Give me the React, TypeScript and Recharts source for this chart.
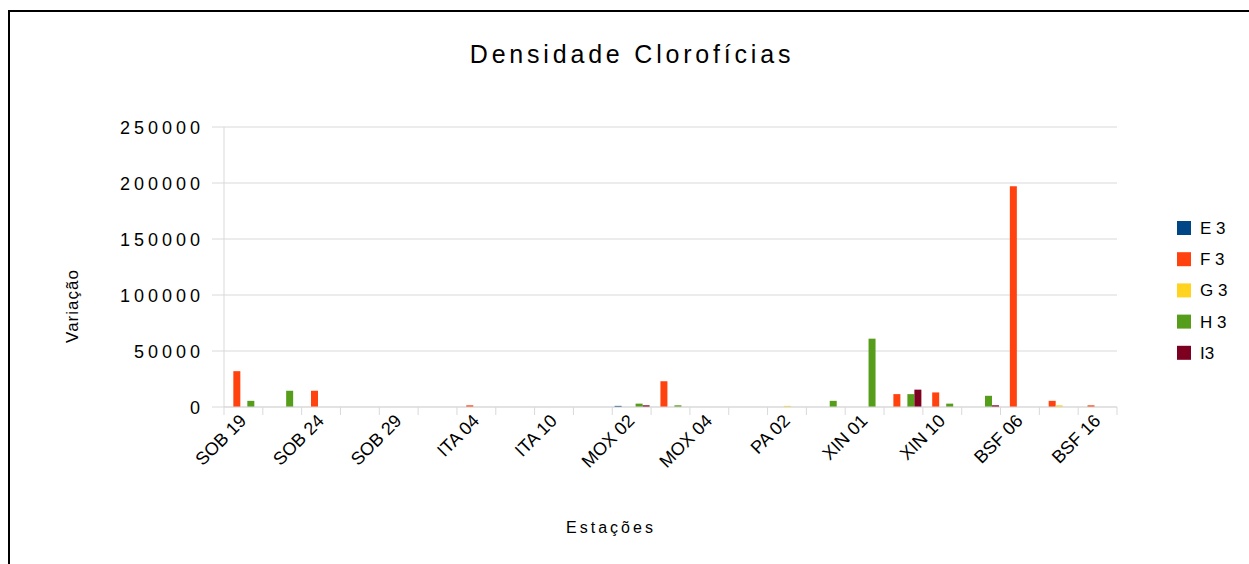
import React from 'react';
import { BarChart, Bar, XAxis, YAxis, CartesianGrid } from 'recharts';

const categories = [
  'SOB 19', '', 'SOB 24', '', 'SOB 29', '', 'ITA 04', '', 'ITA 10', '', 'MOX 02', '',
  'MOX 04', '', 'PA 02', '', 'XIN 01', '', 'XIN 10', '', 'BSF 06', '', 'BSF 16',
];
const e3 = [0, 0, 0, 0, 0, 0, 0, 0, 0, 0, 1000, 0, 0, 0, 0, 0, 0, 0, 0, 0, 0, 0, 0];
const f3 = [32000, 0, 14500, 0, 0, 0, 1500, 0, 0, 0, 0, 23000, 0, 0, 0, 0, 0, 11500, 13000, 0, 197000, 5500, 1500];
const g3 = [0, 0, 0, 0, 0, 0, 0, 0, 0, 0, 0, 0, 0, 0, 1000, 0, 0, 0, 0, 0, 0, 1500, 0];
const h3 = [5500, 14500, 0, 0, 0, 0, 0, 0, 0, 0, 3000, 1500, 0, 0, 0, 5500, 61000, 11500, 3000, 10000, 0, 0, 0];
const i3 = [0, 0, 0, 0, 0, 0, 0, 0, 0, 0, 1500, 0, 0, 0, 0, 0, 0, 15500, 0, 1500, 0, 0, 0];

const seriesKeys = ['E3', 'F3', 'G3', 'H3', 'I3'];
const seriesNames = ['E 3', 'F 3', 'G 3', 'H 3', 'I3'];
const seriesColors = ['#004586', '#ff420e', '#ffd320', '#579d1c', '#7e0021'];
const yTicks = [0, 50000, 100000, 150000, 200000, 250000];

const title = 'Densidade Clorofícias';
const xTitle = 'Estações';
const yTitle = 'Variação';

const data = categories.map((c, i) => ({
  name: c || `_${i}`,
  E3: e3[i],
  F3: f3[i],
  G3: g3[i],
  H3: h3[i],
  I3: i3[i],
}));

const W = 1239;
const H = 552;
const M = { top: 115, right: 132, left: 0, bottom: 0 };
const Y_W = 214;
const X_H = 157;
const PLOT_W = W - M.right - Y_W;
const BAND = PLOT_W / categories.length;
const GRID = '#d9d9d9';
const FONT = '"Liberation Sans", Arial, sans-serif';

const XTick = (props: any) => {
  const { x, y, payload } = props;
  let idx = typeof payload.index === 'number' ? payload.index : data.findIndex((d) => d.name === payload.value);
  const label = categories[idx];
  const half = BAND / 2;
  const ax = x + 4;
  const ay = y + 15;
  return (
    <g>
      <line x1={x - half} y1={y} x2={x - half} y2={y + 8} stroke={GRID} />
      {idx === categories.length - 1 && <line x1={x + half} y1={y} x2={x + half} y2={y + 8} stroke={GRID} />}
      {label ? (
        <text
          x={ax}
          y={ay}
          transform={`rotate(-45 ${ax} ${ay})`}
          textAnchor="end"
          fontSize={18}
          fontFamily={FONT}
          fill="#000"
        >
          {label}
        </text>
      ) : null}
    </g>
  );
};

const YTick = (props: any) => {
  const { x, y, payload } = props;
  return (
    <text x={x} y={y + 6.5} textAnchor="end" fontSize={18} fontFamily={FONT} letterSpacing={4} fill="#000">
      {payload.value}
    </text>
  );
};

export default function App() {
  return (
    <div
      style={{
        position: 'absolute',
        left: 8,
        top: 10,
        right: 0,
        bottom: 0,
        borderLeft: '2px solid #000',
        borderTop: '2px solid #000',
        background: '#fff',
        overflow: 'hidden',
      }}
    >
      <div style={{ position: 'relative', width: W, height: H }}>
        <BarChart width={W} height={H} data={data} margin={M} barCategoryGap="6%" barGap={0}>
          <CartesianGrid vertical={false} stroke={GRID} />
          <XAxis
            dataKey="name"
            interval={0}
            height={X_H}
            tickSize={0}
            tickMargin={0}
            tickLine={false}
            axisLine={{ stroke: GRID }}
            tick={<XTick />}
          />
          <YAxis
            width={Y_W}
            domain={[0, 250000]}
            ticks={yTicks}
            interval={0}
            tickSize={12}
            tickMargin={8}
            tickLine={{ stroke: GRID }}
            axisLine={{ stroke: GRID }}
            tick={<YTick />}
          />
          {seriesKeys.map((k, i) => (
            <Bar key={k} dataKey={k} name={seriesNames[i]} fill={seriesColors[i]} isAnimationActive={false} />
          ))}
        </BarChart>
        <svg
          width={W}
          height={H}
          style={{ position: 'absolute', left: 0, top: 0, pointerEvents: 'none' }}
        >
          <text x={622} y={51} textAnchor="middle" fontSize={25} letterSpacing={3.8} fontFamily={FONT} fill="#000">
            {title}
          </text>
          <text
            x={68}
            y={294}
            transform="rotate(-90 68 294)"
            textAnchor="middle"
            fontSize={17}
            letterSpacing={1}
            fontFamily={FONT}
            fill="#000"
          >
            {yTitle}
          </text>
          <text x={601} y={521} textAnchor="middle" fontSize={16} letterSpacing={3} fontFamily={FONT} fill="#000">
            {xTitle}
          </text>
          {seriesNames.map((n, i) => {
            const cy = 216 + i * 31.2;
            return (
              <g key={n}>
                <rect x={1167} y={cy - 7} width={14} height={14} fill={seriesColors[i]} />
                <text x={1190} y={cy + 6} fontSize={17} fontFamily={FONT} fill="#000">
                  {n}
                </text>
              </g>
            );
          })}
        </svg>
      </div>
    </div>
  );
}
